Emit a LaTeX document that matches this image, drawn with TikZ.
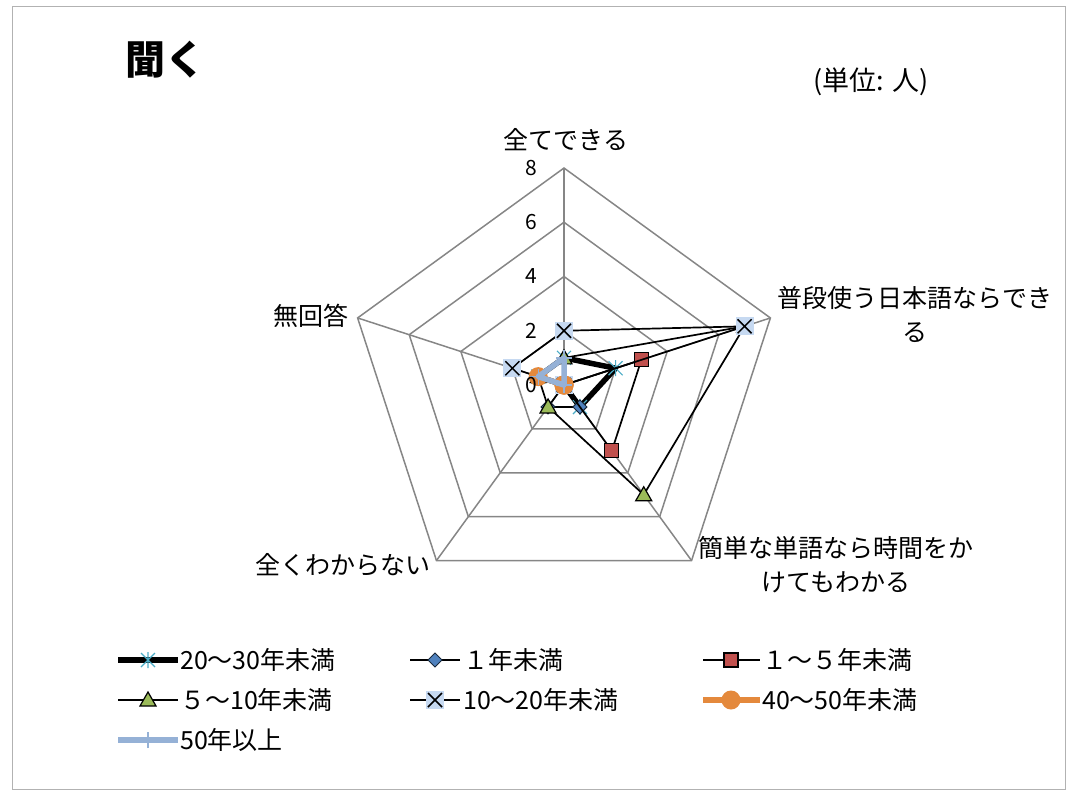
\documentclass[tikz,border=0pt]{standalone}
\usepackage{fontspec}
\setmainfont{Noto Sans CJK JP}
\usetikzlibrary{calc}

\definecolor{gridgray}{RGB}{134,134,134}
\definecolor{mkcyan}{RGB}{75,172,198}
\definecolor{mkblue}{RGB}{79,129,189}
\definecolor{mkred}{RGB}{192,80,77}
\definecolor{mkgreen}{RGB}{155,187,89}
\definecolor{mklight}{RGB}{198,217,241}
\definecolor{mkorange}{RGB}{228,137,60}
\definecolor{mksteel}{RGB}{149,177,214}

\def\unit{27.125}

\tikzset{
  grid line/.style={gridgray, line width=1.5},
  thin series/.style={black, line width=1.7, line join=round},
  thick series/.style={line width=5.5, line join=round},
  axis label/.style={font=\fontsize{25}{34}\selectfont, align=center, inner sep=0},
  tick label/.style={font=\fontsize{21}{24}\selectfont, anchor=east, inner sep=0},
  legend text/.style={font=\fontsize{25}{28}\selectfont, anchor=west, inner sep=0},
  mkstar/.pic={\draw[mkcyan, line width=1.2] (0,-8)--(0,8) (-7,-7)--(7,7) (-7,7)--(7,-7);},
  mkdiamond/.pic={\filldraw[fill=mkblue, draw=black!70!mkblue, line width=1] (0,7)--(7,0)--(0,-7)--(-7,0)--cycle;},
  mksquare/.pic={\filldraw[fill=mkred, draw=black, line width=1.2] (-7,-7) rectangle (7,7);},
  mktri/.pic={\filldraw[fill=mkgreen, draw=black, line width=1.2] (0,8)--(8,-6)--(-8,-6)--cycle;},
  mkcross/.pic={\fill[mklight] (-9,-9) rectangle (9,9); \draw[black, line width=1.5] (-7,-7)--(7,7) (-7,7)--(7,-7);},
  mkdot/.pic={\fill[mkorange] (0,0) circle (9.5);},
  mkplus/.pic={\draw[mksteel, line width=1.3] (-8,0)--(8,0) (0,-8)--(0,8);}
}

\begin{document}
\begin{tikzpicture}[x=1pt, y=1pt]
\useasboundingbox (0,0) rectangle (1076,-796);
\draw[gray!60, line width=1] (12.5,-6.5) rectangle (1065.5,-789.5);

% titles
\node[font=\fontsize{40}{44}\selectfont\bfseries, anchor=west] (ttl) at (122,-60) {聞く};
\node[font=\fontsize{27}{30}\selectfont] (unitlbl) at (871,-82) {(単位: 人)};

% radar
\begin{scope}[shift={(564,-385)}]
\foreach \r in {2,4,6,8}
  \draw[grid line] (90:\r*\unit) -- (18:\r*\unit) -- (-54:\r*\unit) -- (-126:\r*\unit) -- (162:\r*\unit) -- cycle;
\foreach \a [count=\i from 0] in {90,18,-54,-126,162}
  \draw[grid line] (0,0) -- (\a:8*\unit) coordinate (v\i);

% data points: a=20-30, b=1, c=1-5, d=5-10, e=10-20, f=40-50, g=50+
\foreach \s/\va/\vb/\vc/\vd/\ve in {a/1/2/1/0/1, b/0/0/1/1/0, c/0/3/3/0/0,
    d/1/7/5/1/1, e/2/7/0/0/2, f/0/0/0/0/1, g/1/0/0/0/1} {
  \coordinate (\s0) at (90:\va*\unit);
  \coordinate (\s1) at (18:\vb*\unit);
  \coordinate (\s2) at (-54:\vc*\unit);
  \coordinate (\s3) at (-126:\vd*\unit);
  \coordinate (\s4) at (162:\ve*\unit);
}

\draw[thick series, black] (a0) -- (a1) -- (a2) -- (a3) -- (a4) -- cycle;
\foreach \k in {0,...,4} \pic at (a\k) {mkstar};
\draw[thin series] (b0) -- (b1) -- (b2) -- (b3) -- (b4) -- cycle;
\foreach \k in {0,...,4} \pic at (b\k) {mkdiamond};
\draw[thin series] (c0) -- (c1) -- (c2) -- (c3) -- (c4) -- cycle;
\foreach \k in {0,...,4} \pic at (c\k) {mksquare};
\draw[thin series] (d0) -- (d1) -- (d2) -- (d3) -- (d4) -- cycle;
\foreach \k in {0,...,4} \pic at (d\k) {mktri};
\draw[thin series] (e0) -- (e1) -- (e2) -- (e3) -- (e4) -- cycle;
\foreach \k in {0,...,4} \pic at (e\k) {mkcross};
\draw[thick series, mkorange] (f0) -- (f1) -- (f2) -- (f3) -- (f4) -- cycle;
\foreach \k in {0,...,4} \pic at (f\k) {mkdot};
\draw[thick series, mksteel] (g0) -- (g1) -- (g2) -- (g3) -- (g4) -- cycle;
\foreach \k in {0,...,4} \pic at (g\k) {mkplus};

\foreach \v in {0,2,...,8}
  \node[tick label] at (-27,\v*\unit) {\v};
\end{scope}

% axis labels
\node[axis label] (lbl0) at (566,-140) {全てできる};
\node[axis label] (lbl1) at (915,-315) {普段使う日本語ならでき\\る};
\node[axis label] (lbl2) at (836,-565) {簡単な単語なら時間をか\\けてもわかる};
\node[axis label, anchor=east] (lbl3) at (431,-565) {全くわからない};
\node[axis label] (lbl4) at (311,-316) {無回答};

% legend
\draw[thick series, black] (118,-660) -- (178,-660); \pic at (148,-660) {mkstar};
\node[legend text] (lg1) at (180,-660) {20〜30年未満};
\draw[thin series] (410,-660) -- (460,-660); \pic at (435,-660) {mkdiamond};
\node[legend text] (lg2) at (463,-660) {１年未満};
\draw[thin series] (703,-660) -- (760,-660); \pic at (731,-660) {mksquare};
\node[legend text] (lg3) at (762,-660) {１〜５年未満};
\draw[thin series] (118,-700) -- (178,-700); \pic at (148,-700) {mktri};
\node[legend text] (lg4) at (180,-700) {５〜10年未満};
\draw[thin series] (410,-700) -- (460,-700); \pic at (435,-700) {mkcross};
\node[legend text] (lg5) at (463,-700) {10〜20年未満};
\draw[thick series, mkorange] (703,-700) -- (760,-700); \pic at (731,-700) {mkdot};
\node[legend text] (lg6) at (762,-700) {40〜50年未満};
\draw[thick series, mksteel] (118,-740) -- (178,-740); \pic at (148,-740) {mkplus};
\node[legend text] (lg7) at (180,-740) {50年以上};
\end{tikzpicture}
\end{document}
